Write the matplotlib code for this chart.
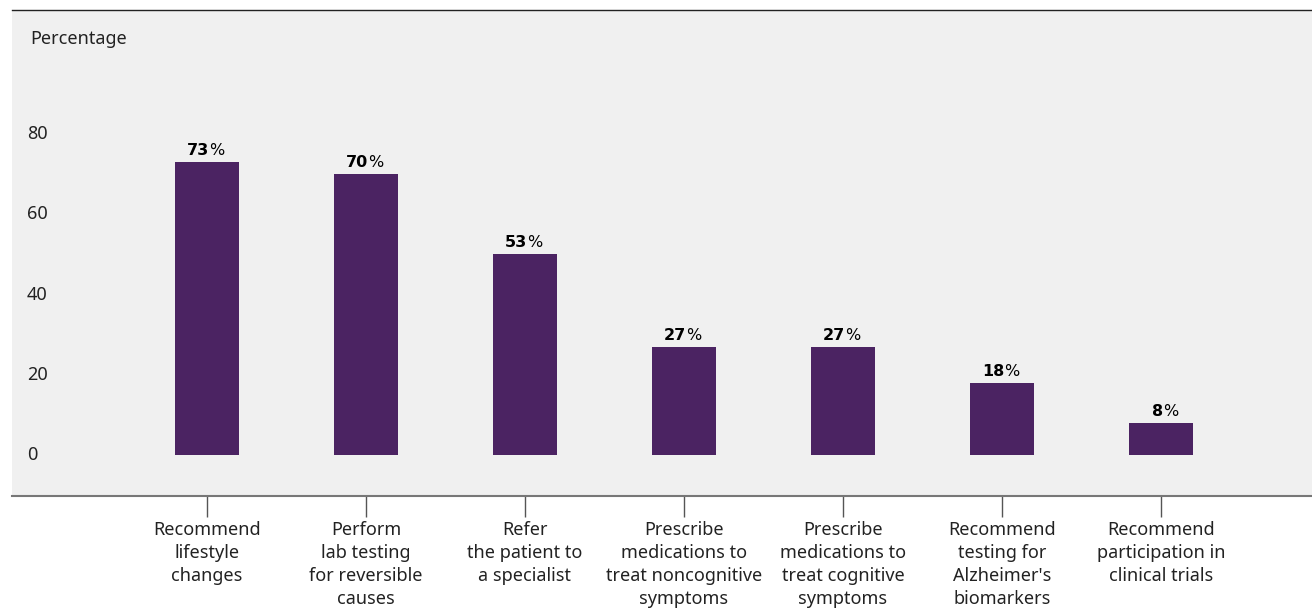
import matplotlib.pyplot as plt
import matplotlib.transforms as mtransforms

# datos
categories = [
    "Recommend\nlifestyle\nchanges",
    "Perform\nlab testing\nfor reversible\ncauses",
    "Refer\nthe patient to\na specialist",
    "Prescribe\nmedications to\ntreat noncognitive\nsymptoms",
    "Prescribe\nmedications to\ntreat cognitive\nsymptoms",
    "Recommend\ntesting for\nAlzheimer's\nbiomarkers",
    "Recommend\nparticipation in\nclinical trials",
]
heights = [73, 70, 50, 27, 27, 18, 8]
value_labels = ["73", "70", "53", "27", "27", "18", "8"]
yticks = [0, 20, 40, 60, 80]

plt.rcParams['font.family'] = ['Noto Sans', 'DejaVu Sans']

fig = plt.figure(figsize=(13.12, 6.10), dpi=100)
ax = fig.add_axes([12 / 1312, 1 - 496 / 610, 1300 / 1312, 486 / 610])
ax.set_facecolor('#f0f0f0')

x = list(range(len(categories)))
ax.bar(x, heights, width=0.4, color='#4b2362', zorder=2)

ax.set_xlim(-1.226, 6.95)
ax.set_ylim(-10.2, 110.9)

# etiquetas de valor: numero en negrita y % normal
off = mtransforms.ScaledTranslation(1.8 / 72, 5 / 72, fig.dpi_scale_trans)
for xi, h, lab in zip(x, heights, value_labels):
    ax.text(xi, h, lab, fontsize=11.5, fontweight='bold', family='DejaVu Sans',
            ha='right', va='baseline', color='black', transform=ax.transData + off)
    ax.text(xi, h, "%", fontsize=11.5, family='DejaVu Sans', ha='left', va='baseline',
            color='black', transform=ax.transData + off)

trans = mtransforms.blended_transform_factory(ax.transAxes, ax.transData)
for yt in yticks:
    ax.text(15 / 1300, yt, str(yt), transform=trans, ha='left', va='center', fontsize=13, color='#222222')
ax.text(18 / 1300, 1 - 29 / 486, "Percentage", transform=ax.transAxes, ha='left', va='center',
        fontsize=13, color='#222222')

ax.set_yticks([])
ax.set_xticks(x)
ax.set_xticklabels(categories, fontsize=13, color='#222222', linespacing=1.36)
ax.tick_params(axis='x', length=15, width=1, color='#555555', pad=3)

for s in ['left', 'right']:
    ax.spines[s].set_visible(False)
ax.spines['top'].set_color('#222222')
ax.spines['top'].set_linewidth(1)
ax.spines['bottom'].set_color('#777777')
ax.spines['bottom'].set_linewidth(1.5)

plt.savefig('out.png', dpi=100)
